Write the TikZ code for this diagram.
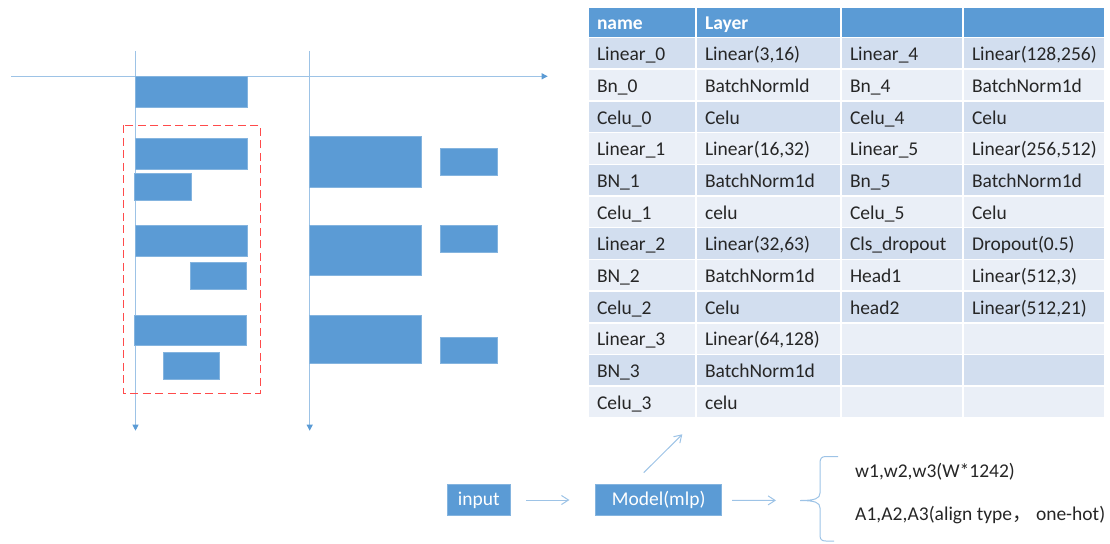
\documentclass[tikz,border=0pt]{standalone}
\usepackage{fontspec}
\setmainfont{Carlito}
\newfontfamily\cjkfont{Noto Sans CJK SC}
\usetikzlibrary{arrows.meta}
\definecolor{obl}{HTML}{5B9BD5}
\definecolor{lbl}{HTML}{9DC3E6}
\definecolor{rowa}{HTML}{D2DEEF}
\definecolor{rowb}{HTML}{EAEFF7}
\definecolor{dred}{HTML}{FF4B4B}
\definecolor{txt}{HTML}{262626}
\begin{document}
\begin{tikzpicture}[x=1pt,y=-1pt,
  font=\fontsize{19.5}{23}\selectfont,
  bar/.style={draw=obl!75!white, line width=0.6pt, fill=obl, inner sep=0pt, outer sep=0pt, anchor=north west},
  axisline/.style={draw=lbl, line width=1pt, -{Triangle[length=6pt,width=6pt,color=obl]}},
  flow/.style={draw=lbl, line width=1pt, -{Straight Barb[length=7pt,width=9pt]}},
  cell/.style={anchor=north west, minimum height=31.7pt, inner xsep=9pt, inner ysep=0pt,
     text height=17pt, text depth=2.5pt, align=left, draw=white, line width=1.5pt, outer sep=0pt, text=txt},
  hcell/.style={cell, minimum height=30.5pt, fill=obl, text=white, font=\fontsize{19.5}{23}\selectfont\bfseries},
  bluebox/.style={fill=obl, draw=obl!75!white, line width=0.6pt, text=white, inner sep=0pt, minimum height=31.4pt}
]
\useasboundingbox (0,0) rectangle (1110,543);

% axis lines
\coordinate (hs) at (11,76.3);
\coordinate (he) at (547.7,76.3);
\coordinate (v1s) at (135.5,51);
\coordinate (v1e) at (135.5,430.7);
\coordinate (v2s) at (309.7,51);
\coordinate (v2e) at (309.7,430.7);
\draw[axisline] (hs) -- (he);
\draw[axisline] (v1s) -- (v1e);
\draw[axisline] (v2s) -- (v2e);

% bars
\node[bar, minimum width=112.2pt, minimum height=31pt] (top) at (135.5,76) {};
\node[bar, minimum width=112.2pt, minimum height=30.7pt] (a1) at (135.5,138.3) {};
\node[bar, minimum width=57pt, minimum height=26.6pt] (a2) at (134.7,173.7) {};
\node[bar, minimum width=112.2pt, minimum height=30.7pt] (b1) at (135.5,225.3) {};
\node[bar, minimum width=56.4pt, minimum height=26.6pt] (b2) at (190.3,262.7) {};
\node[bar, minimum width=112pt, minimum height=30.7pt] (c1) at (134.7,315) {};
\node[bar, minimum width=56pt, minimum height=26.6pt] (c2) at (163.3,352.7) {};
\node[bar, minimum width=112pt, minimum height=51pt] (d1) at (309.7,136.3) {};
\node[bar, minimum width=112pt, minimum height=49.3pt] (d2) at (309.7,225.7) {};
\node[bar, minimum width=112pt, minimum height=48.3pt] (d3) at (309.7,315) {};
\node[bar, minimum width=57pt, minimum height=27pt] (e1) at (440.3,148.7) {};
\node[bar, minimum width=57pt, minimum height=26.7pt] (e2) at (440.3,225.3) {};
\node[bar, minimum width=57pt, minimum height=26.3pt] (e3) at (440.3,337) {};

% red dashed frame
\draw[dred, line width=1.6pt, dash pattern=on 8pt off 4.5pt] (123.3,125.3) rectangle (260.3,393.3);

% table header
\node[hcell, text width=90pt] (h1) at (588,7) {name};
\node[hcell, text width=127pt] (h2) at (696,7) {Layer};
\node[hcell, text width=104pt] (h3) at (841,7) {};
\node[hcell, text width=123.5pt] (h4) at (963,7) {};

% table body
\foreach \n/\l/\m/\r [count=\i] in {
  {Linear\_0}/{Linear(3,16)}/{Linear\_4}/{Linear(128,256)},
  {Bn\_0}/{BatchNormld}/{Bn\_4}/{BatchNorm1d},
  {Celu\_0}/{Celu}/{Celu\_4}/{Celu},
  {Linear\_1}/{Linear(16,32)}/{Linear\_5}/{Linear(256,512)},
  {BN\_1}/{BatchNorm1d}/{Bn\_5}/{BatchNorm1d},
  {Celu\_1}/{celu}/{Celu\_5}/{Celu},
  {Linear\_2}/{Linear(32,63)}/{Cls\_dropout}/{Dropout(0.5)},
  {BN\_2}/{BatchNorm1d}/{Head1}/{Linear(512,3)},
  {Celu\_2}/{Celu}/{head2}/{Linear(512,21)},
  {Linear\_3}/{Linear(64,128)}/{}/{},
  {BN\_3}/{BatchNorm1d}/{}/{},
  {Celu\_3}/{celu}/{}/{}} {
  \pgfmathsetmacro\yy{37.5+(\i-1)*31.7}
  \ifodd\i\relax\def\rc{rowa}\else\def\rc{rowb}\fi
  \node[cell, fill=\rc, text width=90pt] (r\i c1) at (588,\yy) {\n};
  \node[cell, fill=\rc, text width=127pt] (r\i c2) at (696,\yy) {\l};
  \node[cell, fill=\rc, text width=104pt] (r\i c3) at (841,\yy) {\m};
  \node[cell, fill=\rc, text width=123.5pt] (r\i c4) at (963,\yy) {\r};
}

% bottom flow
\node[bluebox, minimum width=62.3pt] (input) at (478.85,500) {input};
\node[bluebox, minimum width=126pt] (model) at (658.7,500) {Model(mlp)};
\coordinate (btip) at (800,500.5);
\coordinate (dgs) at (643.7,472.7);
\coordinate (dge) at (682.3,434.3);
\draw[flow, shorten <=16pt, shorten >=26pt] (input) -- (model);
\draw[flow, shorten <=10pt, shorten >=24pt] (model) -- (btip);
\draw[flow] (dgs) -- (dge);

% brace
\draw[lbl, line width=1pt] (838,456.5) -- (826,456.5)
  .. controls (821.5,456.5) and (820,458.5) .. (820,463) -- (820,493)
  .. controls (820,498.5) and (815,500.5) .. (btip)
  .. controls (815,500.5) and (820,502.5) .. (820,508) -- (820,535)
  .. controls (820,539.5) and (821.5,541) .. (826,541) -- (834,541);

\node[anchor=west, inner sep=0pt, text=txt] (o1) at (855,472) {w1,w2,w3(W*1242)};
\node[anchor=west, inner sep=0pt, text=txt] (o2) at (855,515) {A1,A2,A3(align type{\cjkfont ，} one-hot)};
\end{tikzpicture}
\end{document}
